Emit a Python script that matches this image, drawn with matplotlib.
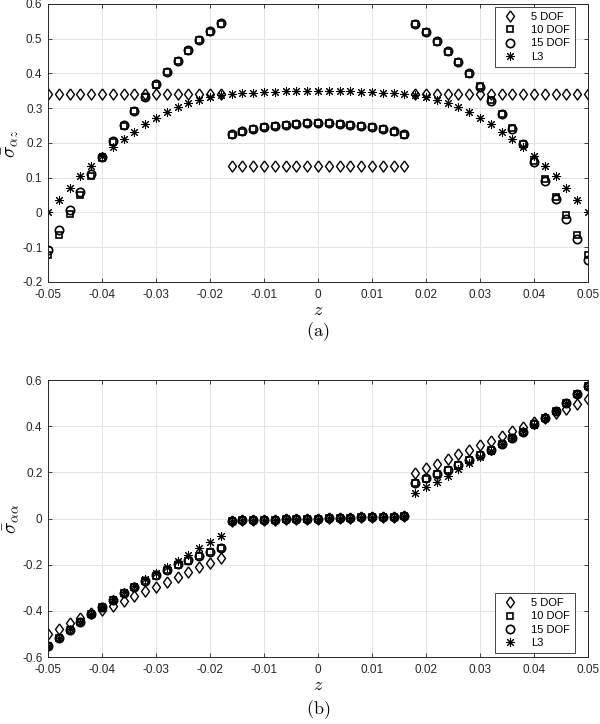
import matplotlib
matplotlib.use("Agg")
import matplotlib.pyplot as plt
import numpy as np

plt.rcParams["font.family"] = ["Liberation Sans", "DejaVu Sans"]
plt.rcParams["mathtext.fontset"] = "cm"

# z sample points: lower face layer, core, upper face layer
z_lower = [-0.050, -0.048, -0.046, -0.044, -0.042, -0.040, -0.038, -0.036, -0.034,
           -0.032, -0.030, -0.028, -0.026, -0.024, -0.022, -0.020, -0.018]
z_core = [-0.016, -0.014, -0.012, -0.010, -0.008, -0.006, -0.004, -0.002, 0.000,
          0.002, 0.004, 0.006, 0.008, 0.010, 0.012, 0.014, 0.016]
z_upper = [0.018, 0.020, 0.022, 0.024, 0.026, 0.028, 0.030, 0.032, 0.034,
           0.036, 0.038, 0.040, 0.042, 0.044, 0.046, 0.048, 0.050]
z = z_lower + z_core + z_upper

labels = ["5 DOF", "10 DOF", "15 DOF", "L3"]

# (a) transverse shear stress
saz_5 = ([0.340] * 17) + ([0.135] * 17) + ([0.340] * 17)
saz_10 = [-0.123, -0.064, -0.004, 0.051, 0.105, 0.156, 0.204, 0.249, 0.291, 0.332, 0.368,
          0.404, 0.435, 0.466, 0.495, 0.520, 0.543] + \
         [0.224, 0.233, 0.240, 0.245, 0.250, 0.253, 0.255, 0.257, 0.257, 0.257, 0.255,
          0.253, 0.250, 0.245, 0.240, 0.233, 0.224] + \
         [0.541, 0.519, 0.492, 0.463, 0.432, 0.399, 0.363, 0.324, 0.284, 0.243, 0.198,
          0.148, 0.097, 0.046, -0.008, -0.066, -0.123]
saz_15 = [-0.109, -0.051, 0.006, 0.059, 0.110, 0.160, 0.207, 0.251, 0.292, 0.333, 0.369,
          0.405, 0.436, 0.467, 0.496, 0.521, 0.544] + \
         [0.226, 0.234, 0.241, 0.246, 0.250, 0.253, 0.256, 0.257, 0.258, 0.257, 0.256,
          0.253, 0.250, 0.246, 0.241, 0.234, 0.226] + \
         [0.542, 0.520, 0.493, 0.464, 0.433, 0.400, 0.362, 0.322, 0.282, 0.240, 0.196,
          0.145, 0.092, 0.040, -0.018, -0.075, -0.136]
saz_l3 = [0.001, 0.037, 0.071, 0.105, 0.135, 0.163, 0.188, 0.212, 0.233, 0.255, 0.272,
          0.289, 0.303, 0.315, 0.324, 0.332, 0.337] + \
         [0.341, 0.343, 0.345, 0.347, 0.348, 0.349, 0.350, 0.350, 0.350, 0.350, 0.350,
          0.349, 0.348, 0.347, 0.345, 0.343, 0.341] + \
         [0.337, 0.332, 0.324, 0.315, 0.303, 0.289, 0.272, 0.255, 0.233, 0.212, 0.188,
          0.163, 0.135, 0.105, 0.071, 0.037, 0.001]

# (b) in-plane normal stress
core_aa = [-0.009, -0.008, -0.007, -0.006, -0.005, -0.004, -0.003, -0.001, 0.000,
           0.001, 0.003, 0.004, 0.005, 0.006, 0.007, 0.008, 0.009]
saa_5 = [-0.500, -0.477, -0.452, -0.430, -0.410, -0.396, -0.378, -0.357, -0.337, -0.316,
         -0.295, -0.274, -0.254, -0.233, -0.212, -0.192, -0.172] + core_aa + \
        [0.199, 0.218, 0.237, 0.258, 0.278, 0.297, 0.317, 0.337, 0.359, 0.379, 0.398,
         0.417, 0.437, 0.456, 0.475, 0.496, 0.516]
saa_10 = [-0.554, -0.518, -0.482, -0.449, -0.414, -0.384, -0.352, -0.323, -0.297, -0.270,
          -0.247, -0.222, -0.200, -0.182, -0.164, -0.147, -0.128] + core_aa + \
         [0.153, 0.173, 0.192, 0.211, 0.232, 0.254, 0.275, 0.297, 0.323, 0.350, 0.376,
          0.408, 0.437, 0.467, 0.502, 0.539, 0.575]
saa_15 = [-0.552, -0.516, -0.481, -0.447, -0.413, -0.382, -0.351, -0.322, -0.296, -0.269,
          -0.246, -0.221, -0.199, -0.181, -0.163, -0.146, -0.127] + core_aa + \
         [0.155, 0.175, 0.193, 0.212, 0.233, 0.254, 0.276, 0.298, 0.323, 0.350, 0.377,
          0.408, 0.437, 0.467, 0.502, 0.539, 0.576]
saa_l3 = [-0.553, -0.516, -0.480, -0.447, -0.414, -0.382, -0.350, -0.320, -0.291, -0.263,
          -0.236, -0.209, -0.183, -0.156, -0.129, -0.102, -0.076] + core_aa + \
         [0.110, 0.136, 0.160, 0.185, 0.213, 0.239, 0.265, 0.294, 0.322, 0.350, 0.378,
          0.407, 0.437, 0.467, 0.501, 0.538, 0.574]

diamond = [(0, 1), (0.72, 0), (0, -1), (-0.72, 0), (0, 1)]
styles = [
    dict(marker=diamond, markersize=8, markeredgewidth=1.0),
    dict(marker="s", markersize=5.0, markeredgewidth=1.2),
    dict(marker="o", markersize=6.0, markeredgewidth=1.2),
    dict(marker=(8, 2, 0), markersize=6.5, markeredgewidth=0.75),
]


def draw_panel(ax, series, ylim, yticks, ylabel, legend_anchor, legend_loc):
    for vals, lab, st in zip(series, labels, styles):
        ax.plot(z, vals, linestyle="none", color="black", markerfacecolor="none",
                markeredgecolor="black", label=lab, **st)
    ax.set_xlim(-0.05, 0.05)
    ax.set_ylim(*ylim)
    ax.set_xticks([-0.05, -0.04, -0.03, -0.02, -0.01, 0, 0.01, 0.02, 0.03, 0.04, 0.05])
    ax.set_xticklabels(["-0.05", "-0.04", "-0.03", "-0.02", "-0.01", "0",
                        "0.01", "0.02", "0.03", "0.04", "0.05"])
    ax.set_yticks(yticks)
    ax.set_yticklabels([("%g" % t) for t in yticks])
    ax.grid(True, color="#e3e3e3", linewidth=0.7)
    ax.set_axisbelow(True)
    ax.tick_params(direction="in", length=3, width=0.6, labelsize=8.5, colors="#262626",
                   top=True, right=True)
    ax.tick_params(axis="x", pad=5)
    ax.tick_params(axis="y", pad=4)
    for sp in ax.spines.values():
        sp.set_color("#262626")
        sp.set_linewidth(0.7)
    ax.set_ylabel(ylabel, fontsize=14, labelpad=1)
    ax.set_xlabel("$z$", fontsize=13, labelpad=1)
    leg = ax.legend(loc=legend_loc, bbox_to_anchor=legend_anchor, fontsize=8,
                    fancybox=False, framealpha=1, edgecolor="#262626", handlelength=1.8,
                    handletextpad=1.0, borderpad=0.45, labelspacing=0.3, borderaxespad=0)
    leg.get_frame().set_linewidth(0.6)


fig = plt.figure(figsize=(6.0, 7.24), dpi=100)
ax1 = fig.add_axes([0.08, 0.6105, 0.9, 0.384])
ax2 = fig.add_axes([0.08, 0.0925, 0.9, 0.3826])

draw_panel(ax1, [saz_5, saz_10, saz_15, saz_l3], (-0.2, 0.6),
           [-0.2, -0.1, 0, 0.1, 0.2, 0.3, 0.4, 0.5, 0.6],
           r"$\bar{\sigma}_{\alpha z}$", (0.976, 0.99), "upper right")
draw_panel(ax2, [saa_5, saa_10, saa_15, saa_l3], (-0.6, 0.6),
           [-0.6, -0.4, -0.2, 0, 0.2, 0.4, 0.6],
           r"$\bar{\sigma}_{\alpha\alpha}$", (0.976, 0.014), "lower right")

fig.text(0.53, 1 - 332 / 724, r"$\mathrm{(a)}$", ha="center", va="center", fontsize=13)
fig.text(0.53, 1 - 710 / 724, r"$\mathrm{(b)}$", ha="center", va="center", fontsize=13)

fig.savefig("out.png", dpi=100)
